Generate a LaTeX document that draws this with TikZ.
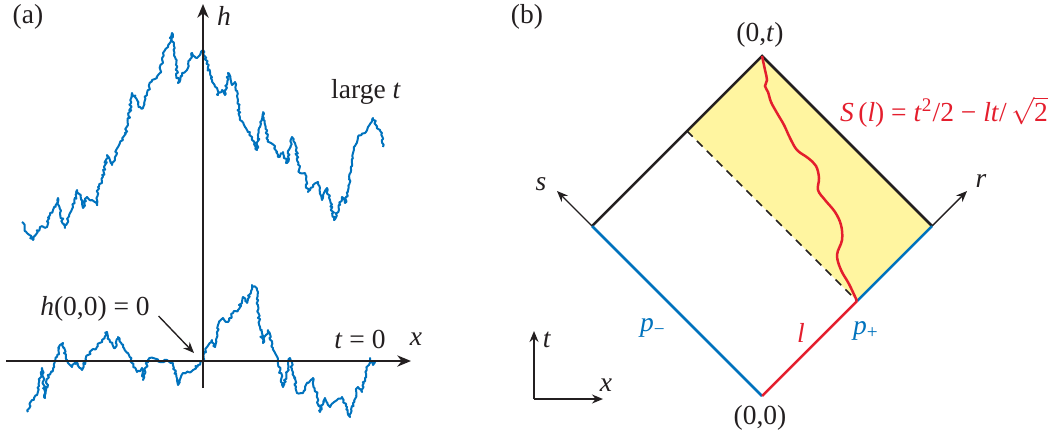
\documentclass[tikz,border=0pt]{standalone}
\usepackage{fontspec}
\setmainfont{Liberation Serif}
\usepackage{xcolor}
\usetikzlibrary{arrows.meta,decorations.pathmorphing}
\definecolor{curveblue}{RGB}{0,114,189}
\definecolor{edgered}{RGB}{228,30,45}
\definecolor{lightyellow}{RGB}{255,245,160}
\definecolor{inkgray}{RGB}{35,31,32}
\newcommand{\var}[1]{\textit{#1}}

\begin{document}
\begin{tikzpicture}[
        x=0.4pt, y=-0.4pt,
        every node/.style={font=\fontsize{11}{13}\selectfont, text=inkgray},
        axis/.style={inkgray, line width=0.8pt, -{Stealth[length=5.5pt, width=4.5pt]}},
        pointer/.style={inkgray, line width=0.55pt, -{Stealth[length=4.4pt, width=3.6pt]}},
        walk/.style={curveblue, line width=0.8pt, line join=round, decorate, decoration={random steps, segment length=0.8pt, amplitude=0.55pt}},
        edge/.style={line width=1pt},
        wiggle/.style={edgered, line width=1pt}
    ]
        \useasboundingbox (0,0) rectangle (1057,435);
        \pgfmathsetseed{12}

        \node (lbla) at (28,17) {(a)};
        \coordinate (hbot) at (203,388);
        \coordinate (htop) at (203,4);
        \coordinate (xleft) at (6,361);
        \coordinate (xright) at (411,361);
        \draw[walk] plot coordinates {(22,222) (27,233) (33,240) (40,227) (47,227) (50,213) (53,210) (58,198) (60,213) (65,228) (70,213) (73,207) (77,190) (82,200) (83,208) (87,197) (92,200) (97,205) (98,187) (102,183) (107,155) (112,165) (115,157) (118,147) (123,140) (128,125) (132,93) (135,97) (140,107) (143,108) (147,93) (152,80) (157,78) (160,73) (163,53) (168,47) (172,33) (175,57) (178,83) (182,73) (187,70) (192,53) (197,58) (203,50) (208,67) (212,80) (217,88) (218,95) (222,90) (225,95) (228,73) (232,85) (235,82) (238,100) (240,120) (245,127) (252,137) (257,150) (260,127) (263,112) (268,140) (275,147) (278,157) (283,152) (287,163) (292,137) (295,143) (300,173) (305,173) (308,192) (313,187) (318,182) (322,200) (327,188) (330,200) (334,220) (337,213) (342,197) (345,203) (348,192) (353,153) (358,137) (365,133) (368,127) (373,118) (377,127) (382,133) (383,147)};
        \draw[walk] plot coordinates {(28,412) (32,400) (37,395) (42,368) (45,398) (48,375) (53,370) (57,357) (60,345) (63,343) (67,360) (72,367) (77,362) (82,370) (88,355) (97,347) (102,340) (107,332) (110,342) (115,348) (118,337) (123,347) (128,353) (132,363) (137,372) (142,368) (143,380) (148,360) (153,358) (160,362) (167,360) (173,363) (178,385) (183,373) (188,372) (193,370) (198,365) (203,361) (207,347) (212,340) (215,347) (218,325) (223,318) (228,322) (233,313) (238,310) (243,297) (247,303) (252,285) (257,290) (258,310) (260,327) (263,343) (268,330) (273,348) (278,360) (283,387) (287,372) (290,358) (293,373) (297,393) (303,393) (308,383) (313,378) (317,397) (320,412) (325,398) (330,407) (337,400) (342,397) (347,407) (350,417) (353,403) (358,387) (362,392) (365,378) (370,358) (373,365) (375,362)};
        \draw[axis] (hbot) -- (htop);
        \draw[axis] (xleft) -- (xright);
        \node (hlbl) at (224,16) {\var{h}};
        \node (xlbl) at (416,339) {\var{x}};
        \node (tzero) at (360,339) {\var{t} = 0};
        \node (larget) at (366,92) {large \var{t}};
        \node (hzero) at (95,309) {\var{h}(0,0) = 0};
        \coordinate (hzerotip) at (194,353);
        \draw[pointer] ([shift={(0,7)}]hzero.east) -- (hzerotip);

        \node (lblb) at (527,17) {(b)};
        \coordinate (O) at (762,396);
        \coordinate (T) at (762,56);
        \coordinate (L) at (592,226);
        \coordinate (R) at (932,226);
        \coordinate (P) at (857,301);
        \coordinate (Q) at (687,131);
        \fill[lightyellow] (Q) -- (T) -- (R) -- (P) -- cycle;
        \draw[inkgray, line width=0.6pt, dash pattern=on 3.2pt off 2.4pt] (Q) -- (P);
        \draw[edge, inkgray] (L) -- (T) -- (R);
        \draw[edge, curveblue] (L) -- (O);
        \draw[edge, curveblue] (P) -- (R);
        \draw[edge, edgered] (O) -- (P);
        \draw[wiggle] plot[smooth, tension=0.6] coordinates {(762,56) (765,70) (767,80) (765,86) (768,92) (771,102) (777,113) (784,125) (790,138) (797,150) (808,158) (816,166) (819,178) (818,190) (825,200) (835,212) (841,225) (842,240) (837,255) (841,270) (849,284) (857,301)};
        \coordinate (stip) at (557,191);
        \coordinate (rtip) at (967,191);
        \draw[pointer] (L) -- (stip);
        \draw[pointer] (R) -- (rtip);
        \node (slbl) at (541,184) {\var{s}};
        \node (rlbl) at (981,181) {\var{r}};
        \node (toplbl) at (760,35) {(0,\var{t})};
        \node (origlbl) at (760,418) {(0,0)};
        \node[text=curveblue] (pminus) at (653,328) {\var{p}\textsubscript{−}};
        \node[text=curveblue] (pplus) at (866,331) {\var{p}\textsubscript{+}};
        \node[text=edgered] (llbl) at (801,333) {\var{l}};
        \node[text=edgered] (slabel) at (944,112) {\var{S}\,(\var{l}) = \var{t}\textsuperscript{2}/2 − \var{lt}/\,$\sqrt{\mbox{2}}$};

        \coordinate (axo) at (534,399);
        \coordinate (axt) at (534,331);
        \coordinate (axx) at (603,399);
        \draw[pointer] (axo) -- (axt);
        \draw[pointer] (axo) -- (axx);
        \node (tlbl) at (547,340) {\var{t}};
        \node (xlbl2) at (606,385) {\var{x}};
    \end{tikzpicture}
\end{document}
